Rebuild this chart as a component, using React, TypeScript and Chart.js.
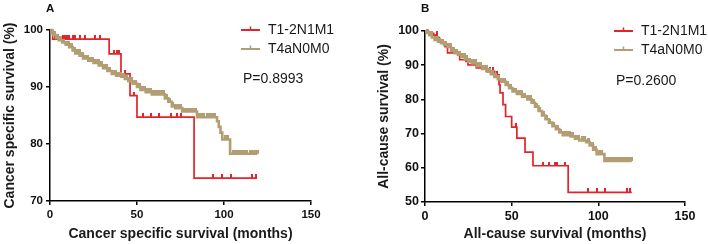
import { useEffect, useRef } from "react";
import { Chart, registerables } from "chart.js";

Chart.register(...registerables);

// ---------- data ----------
const seriesNames = ["T1-2N1M1", "T4aN0M0"];
const xTicks = [0, 50, 100, 150];

// Panel A: cancer specific survival
const aRedTimes = [0, 1.5, 34, 40.8, 46, 50, 82.8, 119];
const aRedValues = [100, 98.4, 95.8, 92.3, 88.5, 84.7, 74.0, 74.0];
const aRedCensor = [3, 7.5, 8.8, 9.6, 11, 13, 14.2, 17.2, 20.3, 25.7, 28.7, 36.8, 38.7, 39.8, 43, 48.3, 53.6, 58, 62.7, 69.5, 72.8, 75.3, 93.9, 99, 103.8, 116.3, 118.4];
const aTanTimes = [0, 1, 2, 3.5, 5, 7, 9, 11, 13, 14.5, 17, 19, 22, 25, 28, 30.5, 33, 35.5, 38, 41, 43, 45, 47.5, 50, 52, 55, 58.5, 66, 68, 70, 72, 76, 84.5, 96, 97, 98, 99, 103.5, 119.2];
const aTanValues = [100, 99.5, 99.1, 98.6, 98.2, 97.8, 97.4, 97.0, 96.4, 95.9, 95.5, 95.0, 94.6, 94.2, 93.8, 93.3, 92.8, 92.3, 92.0, 91.8, 91.4, 91.0, 90.6, 90.0, 89.5, 89.1, 88.7, 88.0, 87.4, 86.6, 86.3, 85.7, 84.7, 84.0, 83.0, 82.0, 80.8, 78.3, 78.3];
const aTanCensor = [1.5, 2.8, 4.2, 6, 7.7, 9.3, 10.5, 12.1, 13.8, 15.5, 16.8, 18.4, 20.1, 21.6, 23.3, 24.5, 26.2, 27.9, 29.4, 31, 32.6, 34.1, 36.2, 37.4, 39.1, 40.3, 42.2, 44, 45.8, 47, 48.9, 51.2, 52.8, 54.3, 56.1, 57.7, 59.2, 61, 62.6, 64.1, 65.3, 67, 68.8, 70.6, 72.4, 73.7, 75.1, 77.3, 78.8, 80.2, 81.9, 83.4, 85.6, 87.1, 88.5, 90.3, 91.8, 93.4, 94.8, 100.6, 101.9, 105.3, 106.8, 108.4, 110.1, 111.7, 113.2, 115, 116.4, 117.9, 119];

// Panel B: all-cause survival
const bRedTimes = [0, 2, 5, 7, 8.3, 10.2, 11.5, 13, 19, 20, 23.6, 24.8, 29.6, 35.4, 40.2, 42.7, 43.3, 45, 46.5, 50, 53, 57.7, 62.3, 82.6, 119.3];
const bRedValues = [100, 99.3, 98.8, 98.1, 97.4, 96.6, 95.4, 93.6, 93.1, 91.6, 91.1, 90.1, 89.2, 88.2, 87.2, 84.3, 81.9, 78.5, 75.0, 71.9, 68.7, 64.6, 60.6, 52.8, 52.8];
const bRedCensor = [6.9, 10.4, 15, 19.5, 27, 32, 37.3, 39.2, 41.5, 52.5, 68.2, 71.7, 75, 75.9, 80.7, 93.8, 99, 103.8, 116.7, 118.2];
const bTanTimes = [0, 1, 2.5, 4, 5.5, 7.5, 9.2, 11, 13, 15, 17, 19, 21, 23, 25, 27, 30, 33, 36, 38, 40, 42, 44, 46.5, 48.5, 50.5, 53, 56, 59, 61.5, 63.5, 65.5, 67.5, 69.5, 71.5, 73.5, 75.5, 77.5, 79.5, 84, 86.5, 89, 93, 95, 97, 99, 103.5, 119.3];
const bTanValues = [100, 99.5, 98.8, 98.1, 97.4, 96.9, 96.4, 95.9, 95.3, 94.2, 93.5, 93.0, 92.4, 91.7, 91.0, 90.5, 89.7, 88.9, 88.1, 87.4, 86.6, 85.9, 85.2, 84.2, 83.3, 82.3, 81.6, 80.8, 80.0, 79.0, 77.9, 76.6, 75.3, 74.2, 73.2, 72.2, 71.3, 70.3, 69.5, 69.2, 68.5, 68.0, 67.5, 66.5, 65.3, 64.0, 62.0, 62.0];
const bTanCensor = [1.2, 2.6, 3.9, 5.8, 7.2, 8.6, 10.1, 11.9, 13.5, 14.8, 16.4, 18.1, 19.7, 21.3, 22.8, 24.2, 25.9, 27.5, 29.1, 30.8, 32.2, 34, 35.6, 37.1, 38.8, 40.5, 42.4, 44.6, 45.9, 47.6, 49.3, 51, 52.4, 54.5, 55.8, 57.4, 59.9, 60.8, 62.7, 64.4, 66.1, 68.3, 70.2, 72, 74.1, 76.2, 78.4, 80.1, 81.8, 83.2, 85.1, 87.3, 88.7, 90.6, 92.1, 94.2, 96.4, 98.3, 100.5, 102.1, 104.6, 106, 107.7, 109.3, 111, 112.6, 114.2, 115.9, 117.5, 119];

// ---------- styles ----------
const RED = "#E4232B";
const TAN = "#B39D73";
const FONT = "'Liberation Sans', Arial, Helvetica, sans-serif";

function stepAt(times: number[], values: number[], t: number) {
  let v = values[0];
  for (let i = 0; i < times.length; i++) {
    if (times[i] <= t) v = values[i];
    else break;
  }
  return v;
}

function tickMark(color: string, w: number, h: number) {
  const c = document.createElement("canvas");
  c.width = w;
  c.height = h * 2;
  const g = c.getContext("2d")!;
  g.fillStyle = color;
  g.fillRect(0, 0, w, h);
  return c;
}

type Panel = {
  label: string;
  yMin: number;
  yMax: number;
  yTitle: string;
  xTitle: string;
  pText: string;
  redT: number[];
  redV: number[];
  redC: number[];
  tanT: number[];
  tanV: number[];
  tanC: number[];
  tickFont: number;
  padLeft: number;
  padTop: number;
  padRight: number;
  yWidth: number;
  xHeight: number;
  yTickPad: number;
  labelX: number;
  legX: number;
  legY: number;
  pX: number;
  pY: number;
};

const panels: Panel[] = [
  {
    label: "A", yMin: 70, yMax: 100,
    yTitle: "Cancer specific survival (%)", xTitle: "Cancer specific survival (months)", pText: "P=0.8993",
    redT: aRedTimes, redV: aRedValues, redC: aRedCensor,
    tanT: aTanTimes, tanV: aTanValues, tanC: aTanCensor,
    tickFont: 11.5, padLeft: 0, padTop: 30, padRight: 43, yWidth: 50, xHeight: 43, yTickPad: 3,
    labelX: 46, legX: 241, legY: 30, pX: 243, pY: 79,
  },
  {
    label: "B", yMin: 50, yMax: 100,
    yTitle: "All-cause survival (%)", xTitle: "All-cause survival (months)", pText: "P=0.2600",
    redT: bRedTimes, redV: bRedValues, redC: bRedCensor,
    tanT: bTanTimes, tanV: bTanValues, tanC: bTanCensor,
    tickFont: 12.5, padLeft: 20, padTop: 31, padRight: 23, yWidth: 51, xHeight: 42, yTickPad: 2,
    labelX: 67, legX: 260, legY: 31, pX: 262, pY: 81,
  },
];

function makeChart(canvas: HTMLCanvasElement, p: Panel) {
  const redMark = tickMark(RED, 2, 4);
  const tanMark = tickMark(TAN, 3, 4);
  const overlay = {
    id: "overlay" + p.label,
    afterDraw(chart: any) {
      const ctx = chart.ctx as CanvasRenderingContext2D;
      ctx.save();
      ctx.fillStyle = "#111";
      ctx.textBaseline = "middle";
      ctx.font = `bold 11.5px ${FONT}`;
      ctx.fillText(p.label, p.labelX, 9);
      const colors = [RED, TAN];
      ctx.font = `14px ${FONT}`;
      for (let i = 0; i < 2; i++) {
        const y = p.legY + i * 19;
        ctx.strokeStyle = colors[i];
        ctx.lineWidth = 2;
        ctx.beginPath();
        ctx.moveTo(p.legX, y);
        ctx.lineTo(p.legX + 19, y);
        ctx.stroke();
        ctx.lineWidth = 1.5;
        ctx.beginPath();
        ctx.moveTo(p.legX + 9.5, y - 3.5);
        ctx.lineTo(p.legX + 9.5, y + 1);
        ctx.stroke();
        ctx.fillStyle = "#1a1a1a";
        ctx.fillText(seriesNames[i], p.legX + 27, y + 0.5);
      }
      ctx.fillText(p.pText, p.pX, p.pY);
      ctx.restore();
    },
  };

  const tickFont = { family: FONT, size: p.tickFont, weight: "bold" as const };
  const titleFont = { family: FONT, size: 14, weight: "bold" as const };

  return new Chart(canvas, {
    type: "line",
    data: {
      datasets: [
        {
          label: seriesNames[1],
          data: p.tanT.map((t, i) => ({ x: t, y: p.tanV[i] })),
          stepped: "before",
          borderColor: TAN,
          borderWidth: 2.6,
          pointRadius: 0,
          fill: false,
          clip: 8,
        } as any,
        {
          label: seriesNames[1] + " censored",
          data: p.tanC.map((t) => ({ x: t, y: stepAt(p.tanT, p.tanV, t) })),
          showLine: false,
          pointStyle: tanMark,
          pointRadius: 3,
          pointHoverRadius: 3,
          clip: 8,
        } as any,
        {
          label: seriesNames[0],
          data: p.redT.map((t, i) => ({ x: t, y: p.redV[i] })),
          stepped: "before",
          borderColor: RED,
          borderWidth: 1.7,
          pointRadius: 0,
          fill: false,
          clip: 8,
        } as any,
        {
          label: seriesNames[0] + " censored",
          data: p.redC.map((t) => ({ x: t, y: stepAt(p.redT, p.redV, t) })),
          showLine: false,
          pointStyle: redMark,
          pointRadius: 3,
          pointHoverRadius: 3,
          clip: 8,
        } as any,
      ],
    },
    options: {
      animation: false,
      responsive: false,
      devicePixelRatio: 1,
      events: [],
      layout: { padding: { left: p.padLeft, top: p.padTop, right: p.padRight, bottom: 0 } },
      plugins: { legend: { display: false }, tooltip: { enabled: false } },
      scales: {
        x: {
          type: "linear",
          min: 0,
          max: 150,
          afterBuildTicks: (s: any) => {
            s.ticks = xTicks.map((v) => ({ value: v }));
          },
          afterFit: (s: any) => {
            s.height = p.xHeight;
          },
          ticks: { font: tickFont, color: "#111", padding: 3, maxRotation: 0 },
          grid: { display: true, drawOnChartArea: false, drawTicks: true, tickLength: 4, color: "#000", lineWidth: 1.5 },
          border: { display: true, color: "#000", width: 1.5 },
          title: { display: true, text: p.xTitle, font: titleFont, color: "#1a1a1a", padding: { top: 0, bottom: 1 } },
        },
        y: {
          type: "linear",
          min: p.yMin,
          max: p.yMax,
          ticks: { stepSize: 10, font: tickFont, color: "#111", padding: p.yTickPad },
          afterFit: (s: any) => {
            s.width = p.yWidth;
          },
          grid: { display: true, drawOnChartArea: false, drawTicks: true, tickLength: 4, color: "#000", lineWidth: 1.5 },
          border: { display: true, color: "#000", width: 1.5 },
          title: { display: true, text: p.yTitle, font: titleFont, color: "#1a1a1a", padding: { top: 2, bottom: 0 } },
        },
      },
    },
    plugins: [overlay],
  } as any);
}

function PanelChart({ p }: { p: Panel }) {
  const ref = useRef<HTMLCanvasElement | null>(null);
  useEffect(() => {
    if (!ref.current) return;
    const chart = makeChart(ref.current, p);
    return () => chart.destroy();
  }, [p]);
  return <canvas ref={ref} width={354} height={244} style={{ display: "block", width: 354, height: 244 }} />;
}

export default function App() {
  return (
    <div style={{ position: "absolute", left: 0, top: 0, width: 708, height: 244, display: "flex", background: "#fff" }}>
      {panels.map((p) => (
        <PanelChart key={p.label} p={p} />
      ))}
    </div>
  );
}
